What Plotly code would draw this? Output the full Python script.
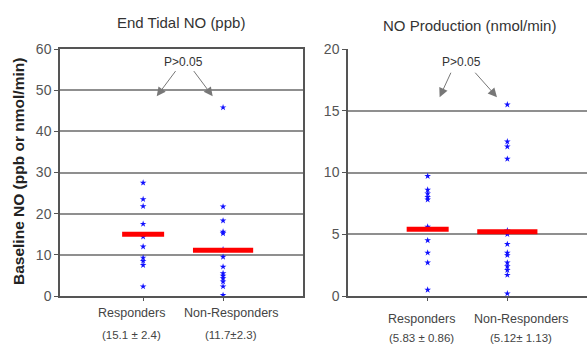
import plotly.graph_objects as go

categories = ["Responders", "Non-Responders"]

# End Tidal NO (ppb)
etno_responders = [27.5, 23.5, 21.8, 17.5, 14.4, 12.0, 9.3, 8.5, 7.5, 2.3]
etno_nonresponders = [45.8, 21.7, 18.3, 15.6, 15.2, 11.3, 9.5, 7.1, 5.5, 4.9, 4.3, 3.5, 2.3, 0.2]
etno_bars = [15.0, 11.1]
etno_stats = ["(15.1 ± 2.4)", "(11.7±2.3)"]

# NO Production (nmol/min)
prod_responders = [9.7, 8.6, 8.3, 8.0, 7.8, 5.6, 4.5, 3.5, 2.7, 0.5]
prod_nonresponders = [15.5, 12.5, 12.1, 11.1, 5.3, 5.0, 4.2, 3.5, 3.3, 2.7, 2.4, 2.1, 1.7, 0.2]
prod_bars = [5.4, 5.2]
prod_stats = ["(5.83 ± 0.86)", "(5.12± 1.13)"]

left_ticks = [0, 10, 20, 30, 40, 50, 60]
right_ticks = [0, 5, 10, 15, 20]

FONT = "Liberation Sans, Arial, sans-serif"
W, H = 587, 347

fig = go.Figure()

star = dict(symbol="star", size=5, color="#1010ff", line=dict(width=0), opacity=1)
bar_marker = dict(symbol="line-ew", size=[30, 43], line=dict(width=5, color="#ff0000"), opacity=1)

for xa, ya, resp, nonresp, bars in [
    ("x", "y", etno_responders, etno_nonresponders, etno_bars),
    ("x2", "y2", prod_responders, prod_nonresponders, prod_bars),
]:
    fig.add_trace(go.Scatter(x=[categories[0]] * len(resp), y=resp, mode="markers",
                             marker=star, xaxis=xa, yaxis=ya, showlegend=False))
    fig.add_trace(go.Scatter(x=[categories[1]] * len(nonresp), y=nonresp, mode="markers",
                             marker=star, xaxis=xa, yaxis=ya, showlegend=False))
    fig.add_trace(go.Scatter(x=categories, y=bars, mode="markers",
                             marker=bar_marker, xaxis=xa, yaxis=ya, showlegend=False))

ydom = [1 - 296 / H, 1 - 49 / H]
common_x = dict(type="category", showgrid=False, showline=True, linecolor="#555", linewidth=1.5,
                ticks="outside", ticklen=3, tickcolor="#555", automargin=False,
                showticklabels=False, zeroline=False,
                categoryorder="array", categoryarray=categories)
common_y = dict(showgrid=True, gridcolor="#8f8f8f", gridwidth=1.5, showline=True, linecolor="#555",
                linewidth=1.5, ticks="outside", ticklen=4, tickcolor="#555", automargin=False,
                tickfont=dict(family=FONT, size=14, color="#555"), zeroline=False, domain=ydom)

fig.update_layout(
    width=W, height=H,
    margin=dict(l=0, r=0, t=0, b=0),
    paper_bgcolor="white", plot_bgcolor="white",
    xaxis=dict(common_x, domain=[60 / W, 303 / W], range=[-1.04, 2.0], anchor="y", mirror=True),
    yaxis=dict(common_y, range=[0, 60], tickvals=left_ticks, anchor="x", mirror=True),
    xaxis2=dict(common_x, domain=[348 / W, 1.0], range=[-1.0, 2.0], anchor="y2"),
    yaxis2=dict(common_y, range=[0, 20], tickvals=right_ticks, anchor="x2"),
)

ann = []
ann.append(dict(text="End Tidal NO (ppb)", x=181 / W, y=1 - 22 / H, xref="paper", yref="paper",
                xanchor="center", yanchor="middle",
                showarrow=False, font=dict(family=FONT, size=15, color="#333")))
ann.append(dict(text="NO Production (nmol/min)", x=469 / W, y=1 - 25 / H, xref="paper", yref="paper",
                xanchor="center", yanchor="middle",
                showarrow=False, font=dict(family=FONT, size=15, color="#333")))
ann.append(dict(text="<b>Baseline NO (ppb or nmol/min)</b>", x=18 / W, y=1 - 172 / H, xref="paper",
                yref="paper", xanchor="center", yanchor="middle", textangle=-90, showarrow=False,
                font=dict(family=FONT, size=15.5, color="#222")))

# category labels and stats lines below each axis
for xref, stats, y1, y2, shifts in [
    ("x", etno_stats, 313, 335, (-12, 8)),
    ("x2", prod_stats, 319, 338, (-6, 14)),
]:
    for cat, s, sh in zip(categories, stats, shifts):
        ann.append(dict(text=cat, x=cat, xref=xref, y=1 - y1 / H, yref="paper", showarrow=False,
                        xanchor="center", yanchor="middle", xshift=sh,
                        font=dict(family=FONT, size=12.5, color="#444")))
        ann.append(dict(text=s, x=cat, xref=xref, y=1 - y2 / H, yref="paper", showarrow=False,
                        xanchor="center", yanchor="middle", xshift=sh,
                        font=dict(family=FONT, size=11.5, color="#444")))

# P>0.05 annotations with arrows
pfont = dict(family=FONT, size=12, color="#333")
for xref, yref, xtxt, ytxt in [("x", "y", 0.5, 56.8), ("x2", "y2", 0.42, 18.95)]:
    ann.append(dict(text="P>0.05", x=xtxt, y=ytxt, xref=xref, yref=yref, showarrow=False,
                    xanchor="center", yanchor="middle", font=pfont))
for xref, yref, xt, yt, ax, ay in [
    ("x", "y", 0.17, 48.5, 0.42, 55.0), ("x", "y", 0.87, 48.5, 0.62, 55.0),
    ("x2", "y2", 0.15, 16.1, 0.3, 18.2), ("x2", "y2", 0.87, 16.1, 0.58, 18.2),
]:
    ann.append(dict(text="", x=xt, y=yt, xref=xref, yref=yref, ax=ax, ay=ay, axref=xref, ayref=yref,
                    showarrow=True, arrowhead=2, arrowsize=1.8, arrowwidth=1, arrowcolor="#777"))

fig.update_layout(annotations=ann)
fig.write_html("out.html")
